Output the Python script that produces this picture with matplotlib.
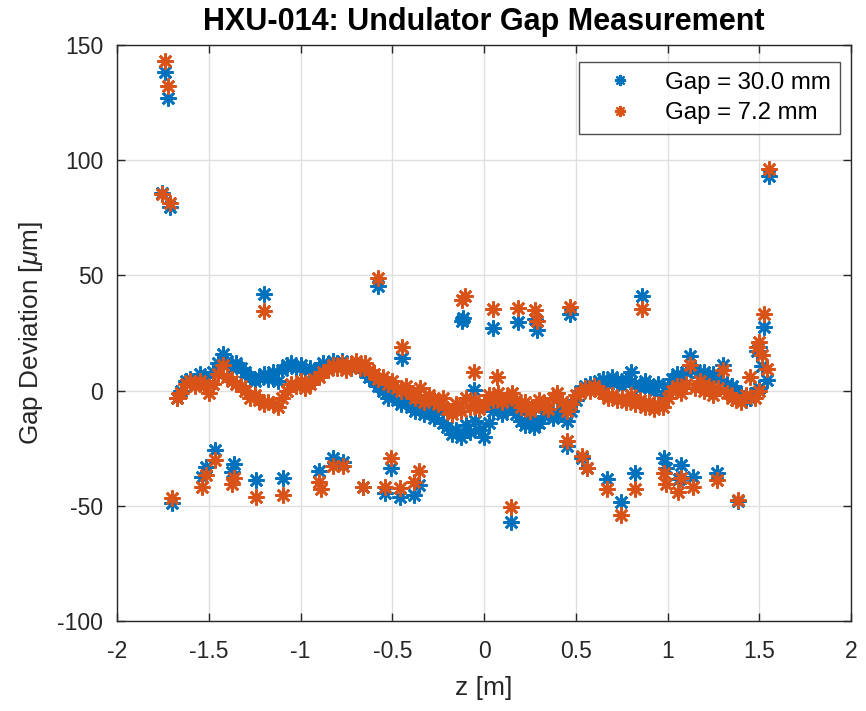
import numpy as np
import matplotlib
matplotlib.use("Agg")
import matplotlib.pyplot as plt

plt.rcParams['font.family'] = ['Liberation Sans', 'DejaVu Sans']
plt.rcParams['axes.unicode_minus'] = False
plt.rcParams['mathtext.fontset'] = 'custom'
plt.rcParams['mathtext.it'] = 'Liberation Sans:italic'

# positions of the main measurement band [m]
z_band = [-1.675, -1.650, -1.625, -1.600, -1.575, -1.550, -1.525, -1.500, -1.475, -1.450,
          -1.425, -1.400, -1.375, -1.350, -1.325, -1.300, -1.275, -1.250, -1.225, -1.200,
          -1.175, -1.150, -1.125, -1.100, -1.075, -1.050, -1.025, -1.000, -0.975, -0.950,
          -0.925, -0.900, -0.875, -0.850, -0.825, -0.800, -0.775, -0.750, -0.725, -0.700,
          -0.675, -0.650, -0.625, -0.600, -0.575, -0.550, -0.525, -0.500, -0.475, -0.450,
          -0.425, -0.400, -0.375, -0.350, -0.325, -0.300, -0.275, -0.250, -0.225, -0.200,
          -0.175, -0.150, -0.125, -0.100, -0.075, -0.050, -0.025, 0.000, 0.025, 0.050,
          0.075, 0.100, 0.125, 0.150, 0.175, 0.200, 0.225, 0.250, 0.275, 0.300,
          0.325, 0.350, 0.375, 0.400, 0.425, 0.450, 0.475, 0.500, 0.525, 0.550,
          0.575, 0.600, 0.625, 0.650, 0.675, 0.700, 0.725, 0.750, 0.775, 0.800,
          0.825, 0.850, 0.875, 0.900, 0.925, 0.950, 0.975, 1.000, 1.025, 1.050,
          1.075, 1.100, 1.125, 1.150, 1.175, 1.200, 1.225, 1.250, 1.275, 1.300,
          1.325, 1.350, 1.375, 1.400, 1.425, 1.450, 1.475, 1.500]

# gap deviation [um], gap = 30.0 mm
gap30_band = [-3, 0, 4, 5, 4, 7, 6, 3, 8, 12,
              16, 13, 10, 12, 10, 8, 6, 4, 6, 7,
              5, 8, 4, 9, 11, 12, 10, 11, 9, 10,
              8, 10, 12, 11, 13, 12, 13, 11, 10, 12,
              11, 8, 6, 4, 2, 0, -3, -1, -4, -6,
              -3, -7, -9, -6, -10, -8, -12, -9, -14, -16,
              -19, -17, -20, -15, -18, -13, -17, -20, -14, -9,
              -7, -10, -8, -6, -10, -13, -15, -12, -16, -14,
              -11, -9, -12, -10, -8, -13, -9, -4, 0, 2,
              3, 1, 4, 5, 3, 6, 4, 2, 5, 8,
              3, 1, 4, 2, 0, 3, -2, 2, 5, 7,
              4, 8, 15, 9, 6, 8, 4, 7, 5, 11,
              3, 2, 0, -2, -4, -3, -1, 1]

# gap deviation [um], gap = 7.2 mm
gap72_band = [-3, -1, 3, 4, 2, 4, 2, -1, 3, 7,
              11, 6, 4, 3, 2, 0, -3, -2, -4, -6,
              -5, -6, -7, -3, 0, 3, 2, 4, 1, 3,
              5, 6, 8, 9, 11, 10, 12, 9, 11, 13,
              10, 12, 9, 7, 5, 6, 3, 4, 1, 0,
              2, -1, -3, 1, -5, -2, -4, -6, -3, -8,
              -10, -6, -9, -3, -7, -4, -8, -6, -2, -4,
              -1, -5, -3, -1, -4, -7, -5, -9, -7, -4,
              -6, -8, -3, -1, -5, -9, -6, -2, -1, 1,
              0, 2, 0, -1, -3, -2, -4, -3, -5, -2,
              -6, -4, -7, -5, -8, -6, -7, -3, 0, 2,
              -1, 3, 11, 1, 4, 0, 2, -2, 1, 9,
              -1, -3, -4, -5, -2, 6, -3, 0]

# points away from the band
z_out30 = [-1.755, -1.738, -1.722, -1.711, -1.700, -1.539, -1.517, -1.466, -1.373, -1.361,
           -1.243, -1.200, -1.097, -0.899, -0.825, -0.770, -0.661, -0.576, -0.540, -0.508,
           -0.458, -0.445, -0.380, -0.352, -0.120, -0.113, -0.053, 0.051, 0.145, 0.183,
           0.280, 0.287, 0.454, 0.469, 0.532, 0.560, 0.669, 0.745, 0.823, 0.863,
           0.981, 0.990, 1.060, 1.072, 1.137, 1.268, 1.386, 1.490, 1.500, 1.513,
           1.528, 1.540, 1.555]
gap30_out = [85.8, 138.3, 127.0, 79.7, -48.8, -37.4, -33.2, -25.8, -35.2, -32.0,
             -38.8, 41.8, -38.1, -34.8, -29.4, -30.9, -41.7, 45.4, -44.6, -33.7,
             -46.3, 14.0, -45.3, -41.0, 30.4, 31.4, 0.3, 27.0, -56.9, 29.9,
             31.0, 26.3, -24.0, 33.2, -29.4, -33.7, -38.5, -48.2, -35.6, 41.2,
             -29.4, -33.7, -38.5, -32.3, -37.4, -35.6, -47.9, 17.0, 19.0, 10.7,
             27.7, 4.6, 93.1]

z_out72 = [-1.755, -1.738, -1.722, -1.711, -1.700, -1.539, -1.517, -1.466, -1.373, -1.361,
           -1.243, -1.200, -1.097, -0.899, -0.888, -0.825, -0.770, -0.661, -0.576, -0.540,
           -0.508, -0.458, -0.445, -0.380, -0.352, -0.118, -0.105, -0.053, 0.051, 0.069,
           0.145, 0.183, 0.280, 0.287, 0.454, 0.469, 0.532, 0.560, 0.669, 0.745,
           0.823, 0.863, 0.981, 0.990, 1.059, 1.072, 1.137, 1.268, 1.386, 1.490,
           1.500, 1.513, 1.528, 1.540, 1.555]
gap72_out = [85.3, 143.0, 132.0, 81.4, -46.6, -41.7, -36.6, -30.1, -40.5, -38.1,
             -46.0, 34.7, -45.3, -39.5, -42.8, -32.7, -32.7, -41.7, 48.7, -41.7,
             -29.4, -42.4, 19.0, -39.5, -34.8, 39.5, 41.2, 7.9, 35.3, 6.0,
             -50.4, 35.7, 35.0, 30.0, -21.7, 36.2, -28.5, -33.7, -42.8, -54.0,
             -42.8, 35.4, -35.6, -40.5, -43.9, -38.1, -42.0, -38.8, -47.6, 19.0,
             21.2, 15.5, 33.1, 9.2, 96.0]

z30 = np.array(z_band + z_out30)
g30 = np.array(gap30_band + gap30_out)
z72 = np.array(z_band + z_out72)
g72 = np.array(gap72_band + gap72_out)

fig = plt.figure(figsize=(8.66, 7.11), dpi=100)
ax = fig.add_axes([0.1351, 0.1266, 0.8476, 0.8101])

star = (8, 2, 0)
ax.plot(z30, g30, linestyle='none', marker=star, markersize=11.5, markeredgewidth=1.9,
        color='#0072BD', label='Gap = 30.0 mm')
ax.plot(z72, g72, linestyle='none', marker=star, markersize=11.5, markeredgewidth=1.9,
        color='#D95319', label='Gap = 7.2 mm')

ax.set_xlim(-2, 2)
ax.set_ylim(-100, 150)
ax.set_xticks([-2, -1.5, -1, -0.5, 0, 0.5, 1, 1.5, 2])
ax.set_xticklabels(['-2', '-1.5', '-1', '-0.5', '0', '0.5', '1', '1.5', '2'])
ax.set_yticks([-100, -50, 0, 50, 100, 150])

ax.grid(True, color='#dfdfdf', linewidth=1.0)
ax.set_axisbelow(True)
for s in ax.spines.values():
    s.set_color('#262626')
    s.set_linewidth(1.0)
ax.tick_params(direction='in', top=True, right=True, length=6, width=1.0,
               colors='#262626', labelsize=16.5)
ax.tick_params(axis='x', pad=14)
ax.tick_params(axis='y', pad=10)

ax.set_xlabel('z [m]', fontsize=19, color='#262626', labelpad=9)
ax.set_ylabel('Gap Deviation [$\\mu$m]', fontsize=18.8, color='#262626', labelpad=9)
ax.set_title('HXU-014: Undulator Gap Measurement', fontsize=22, fontweight='bold', pad=11)

leg = ax.legend(loc='upper right', bbox_to_anchor=(0.985, 0.9705), fontsize=17.3,
                frameon=True, fancybox=False, edgecolor='#262626', borderpad=0.4,
                handlelength=2.6, handletextpad=0.55, labelspacing=0.35, borderaxespad=0)
leg.get_frame().set_linewidth(1.0)
for h in leg.legend_handles:
    h.set_markersize(8)
    h.set_markeredgewidth(1.6)

fig.savefig('out.png', dpi=100)
